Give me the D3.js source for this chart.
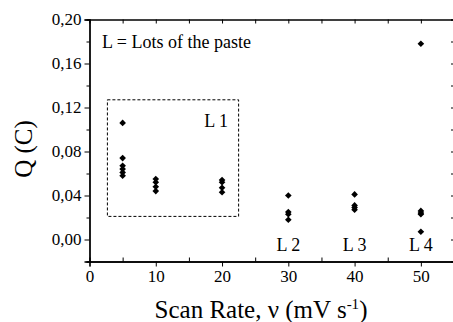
<!DOCTYPE html>
<html lang="en">
<head>
    <meta charset="utf-8" />
    <title>Q vs Scan Rate</title>
    <style>
        body { margin: 0; background: #fff; }
        svg text { font-family: "Liberation Serif", "DejaVu Serif", "Times New Roman", Times, serif; fill: #000; }
    </style>
</head>
<body>
<svg id="chart" width="453" height="322"></svg>
<script src="https://cdn.jsdelivr.net/npm/d3@7"></script>
<script>
    // Scan rates (mV/s) and the charge values measured for each lot
    const scanRates = [5, 10, 20, 30, 40, 50];
    const chargeValues = [
        [0.106, 0.074, 0.067, 0.064, 0.061, 0.058],
        [0.055, 0.052, 0.048, 0.044],
        [0.054, 0.052, 0.047, 0.043],
        [0.040, 0.025, 0.023, 0.018],
        [0.041, 0.031, 0.029, 0.027],
        [0.178, 0.026, 0.024, 0.023, 0.007]
    ];
    const xTicks = [0, 10, 20, 30, 40, 50];
    const yTicks = [0, 0.04, 0.08, 0.12, 0.16, 0.20];
    const lotLabels = ["L 1", "L 2", "L 3", "L 4"];
    const lotLabelPos = [[17.3, 0.102], [30, -0.0103], [40, -0.0103], [50, -0.0103]];
    const lotBox = [2.7, 22.5, 0.021, 0.127];   // x0, x1, y0, y1

    const serif = '"Liberation Serif", "DejaVu Serif", "Times New Roman", Times, serif';
    const svg = d3.select("#chart");
    const margin = { left: 89.5, right: 454, top: 19.5, bottom: 261.5 };

    const x = d3.scaleLinear().domain([0, 55]).range([margin.left, margin.right]);
    const y = d3.scaleLinear().domain([-0.02, 0.20]).range([margin.bottom, margin.top]);

    const fmt = d => d3.format(".2f")(d).replace(".", ",");

    // bottom axis: major out, minor in
    const bottom = svg.append("g").attr("transform", `translate(0,${margin.bottom})`);
    bottom.call(d3.axisBottom(x).tickValues(xTicks).tickSize(5).tickPadding(3).tickFormat(d3.format("d")));
    bottom.append("g").call(d3.axisTop(x).tickValues(d3.range(5, 55, 10)).tickSize(4).tickFormat(""));

    // left axis: major and minor ticks outward
    const left = svg.append("g").attr("transform", `translate(${margin.left},0)`);
    left.call(d3.axisLeft(y).tickValues(yTicks).tickSize(5).tickPadding(3).tickFormat(fmt));
    left.append("g").call(d3.axisLeft(y).tickValues(d3.range(-0.02, 0.2, 0.04)).tickSize(3).tickFormat(""));

    // top and right mirror axes with inward ticks
    svg.append("g").attr("transform", `translate(0,${margin.top})`)
        .call(d3.axisBottom(x).tickValues(d3.range(5, 55, 5)).tickSize(4).tickFormat(""));
    svg.append("g").attr("transform", `translate(${margin.right},0)`)
        .call(d3.axisLeft(y).tickValues(d3.range(-0.02, 0.2, 0.02)).tickSize(3).tickFormat(""));

    svg.selectAll("g").attr("font-family", serif);
    svg.selectAll(".domain").attr("stroke", "#000").attr("stroke-width", 1.3);
    svg.selectAll(".tick line").attr("stroke", "#000");
    svg.selectAll(".tick text").style("font-family", serif).attr("font-size", 17);

    // dashed box around lot 1
    svg.append("rect")
        .attr("x", x(lotBox[0])).attr("y", y(lotBox[3]))
        .attr("width", x(lotBox[1]) - x(lotBox[0]))
        .attr("height", y(lotBox[2]) - y(lotBox[3]))
        .attr("fill", "none").attr("stroke", "#000")
        .attr("stroke-dasharray", "3,2");

    // diamonds
    const points = scanRates.flatMap((r, i) => chargeValues[i].map(v => ({ r, v })));
    const diamond = d3.symbol().type(d3.symbolDiamond2).size(28);
    svg.append("g").selectAll("path").data(points).join("path")
        .attr("d", diamond)
        .attr("transform", d => `translate(${x(d.r)},${y(d.v)})`)
        .attr("fill", "#000");

    // lot labels
    svg.append("g").selectAll("text").data(lotLabels).join("text")
        .attr("x", (d, i) => x(lotLabelPos[i][0]))
        .attr("y", (d, i) => y(lotLabelPos[i][1]))
        .attr("text-anchor", (d, i) => i === 0 ? "start" : "middle")
        .attr("font-size", 18)
        .style("font-family", serif)
        .text(d => d);

    svg.append("text")
        .attr("x", 102).attr("y", 48)
        .attr("font-size", 18)
        .style("font-family", serif)
        .text("L = Lots of the paste");

    // axis titles
    const xTitle = svg.append("text")
        .attr("x", 261).attr("y", 318)
        .attr("text-anchor", "middle")
        .attr("font-size", 25)
        .style("font-family", serif);
    xTitle.append("tspan").text("Scan Rate, ν (mV s");
    xTitle.append("tspan").attr("dy", -9).attr("font-size", 15).text("-1");
    xTitle.append("tspan").attr("dy", 9).text(")");

    svg.append("text")
        .attr("transform", `translate(32,149) rotate(-90)`)
        .attr("text-anchor", "middle")
        .attr("font-size", 25)
        .style("font-family", serif)
        .text("Q (C)");
</script>
</body>
</html>
